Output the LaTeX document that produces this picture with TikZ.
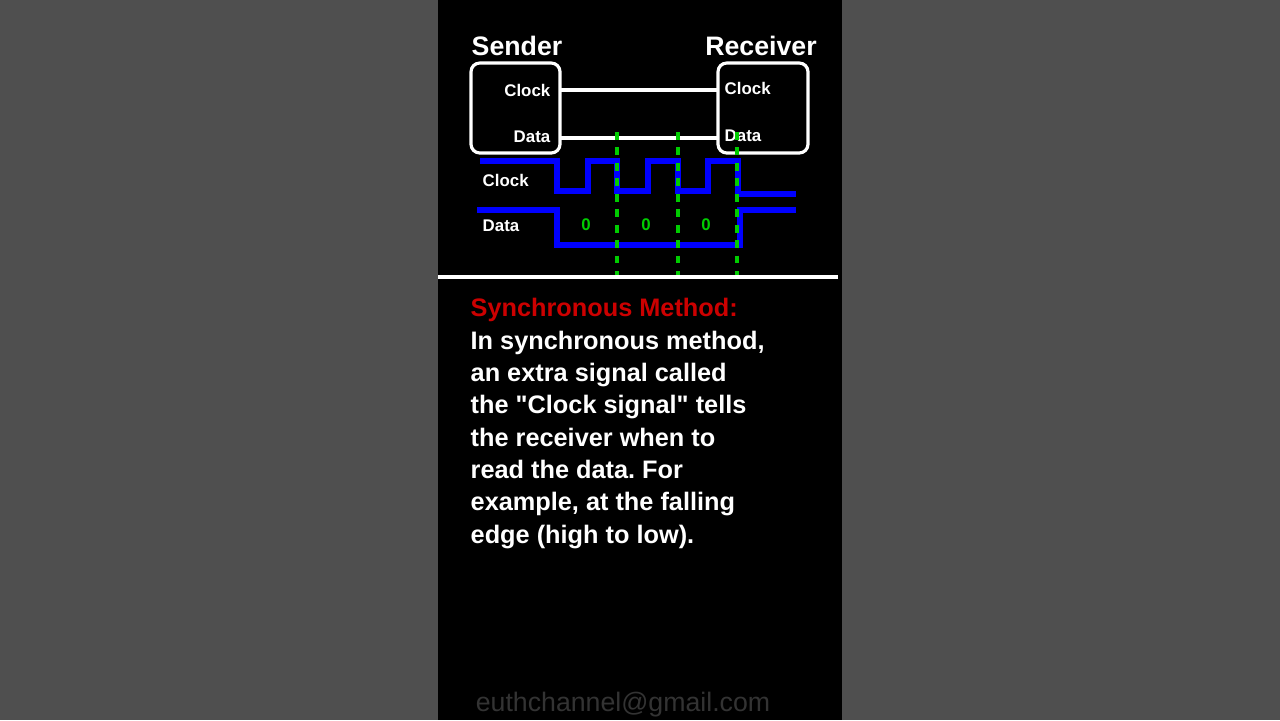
\documentclass[tikz,border=0pt]{standalone}
\usepackage{fontspec}
\setmainfont{Liberation Sans}
\begin{document}
\begin{tikzpicture}[
    x=0.1mm, y=-0.1mm,
    unit/.style={draw=white, line width=0.9pt, rounded corners=2.5pt},
    wire/.style={draw=white, line width=0.9pt},
    signal/.style={draw=blue, line width=1.7pt},
    tick/.style={draw=green!80!black, line width=1.2pt, dash pattern=on 2.2pt off 2.2pt},
    head/.style={text=white, font=\bfseries\fontsize{7.6}{9}\selectfont},
    pin/.style={text=white, font=\bfseries\fontsize{4.8}{6}\selectfont, inner sep=0pt},
    bit/.style={text=green!80!black, font=\bfseries\fontsize{4.8}{6}\selectfont},
    body/.style={text=white, font=\bfseries\fontsize{7.2}{9.2}\selectfont, align=left, inner sep=0pt}
  ]
    % Background
    \fill[gray!62!black] (0,0) rectangle (1280,720);
    \fill[black] (438,0) rectangle (842,720);
    \useasboundingbox (0,0) rectangle (1280,720);

    % Units
    \draw[unit] (471,63) rectangle (560,153);
    \draw[unit] (718,63) rectangle (808,153);
    \node[head] (sender) at (517,46) {Sender};
    \node[head] (receiver) at (761,46) {Receiver};
    \node[pin, anchor=east] (sclk) at (551,90) {Clock};
    \node[pin, anchor=east] (sdat) at (551,137) {Data};
    \node[pin, anchor=west] (rclk) at (724,88) {Clock};
    \node[pin, anchor=west] (rdat) at (724,136) {Data};
    \coordinate (so1) at (560,90);
    \coordinate (ri1) at (718,90);
    \coordinate (so2) at (560,138);
    \coordinate (ri2) at (718,138);
    \draw[wire] (so1) -- (ri1);
    \draw[wire] (so2) -- (ri2);

    % Waveforms
    \draw[signal] (480,161) -- (557,161) -- (557,191) -- (588,191) -- (588,161)
      -- (617,161) -- (617,191) -- (648,191) -- (648,161) -- (678,161) -- (678,191)
      -- (708,191) -- (708,161) -- (738,161) -- (738,194) -- (796,194);
    \draw[signal] (477,210) -- (557,210) -- (557,245) -- (740,245) -- (740,210) -- (796,210);
    \node[pin, anchor=west] (wclk) at (482,180) {Clock};
    \node[pin, anchor=west] (wdat) at (482,226) {Data};
    \foreach \x in {586,646,706}
      \node[bit] at (\x,225) {0};

    % Sampling edges
    \foreach \x in {617,678,737}
      \draw[tick] (\x,132) -- (\x,275);

    \draw[draw=white, line width=0.9pt] (438,277) -- (838,277);

    % Text
    \node[body, anchor=west, text=red!80!black] (title) at (470,310) {Synchronous Method:};
    \node[body, anchor=north west] (desc) at (470,330) {In synchronous method,\\an extra signal called\\the \textquotedbl Clock signal\textquotedbl{} tells\\the receiver when to\\read the data.\ For\\example, at the falling\\edge (high to low).};
    \node[text=gray!40!black, font=\fontsize{7.6}{9}\selectfont] (mail) at (623,705) {euthchannel@gmail.com};
  \end{tikzpicture}
\end{document}
